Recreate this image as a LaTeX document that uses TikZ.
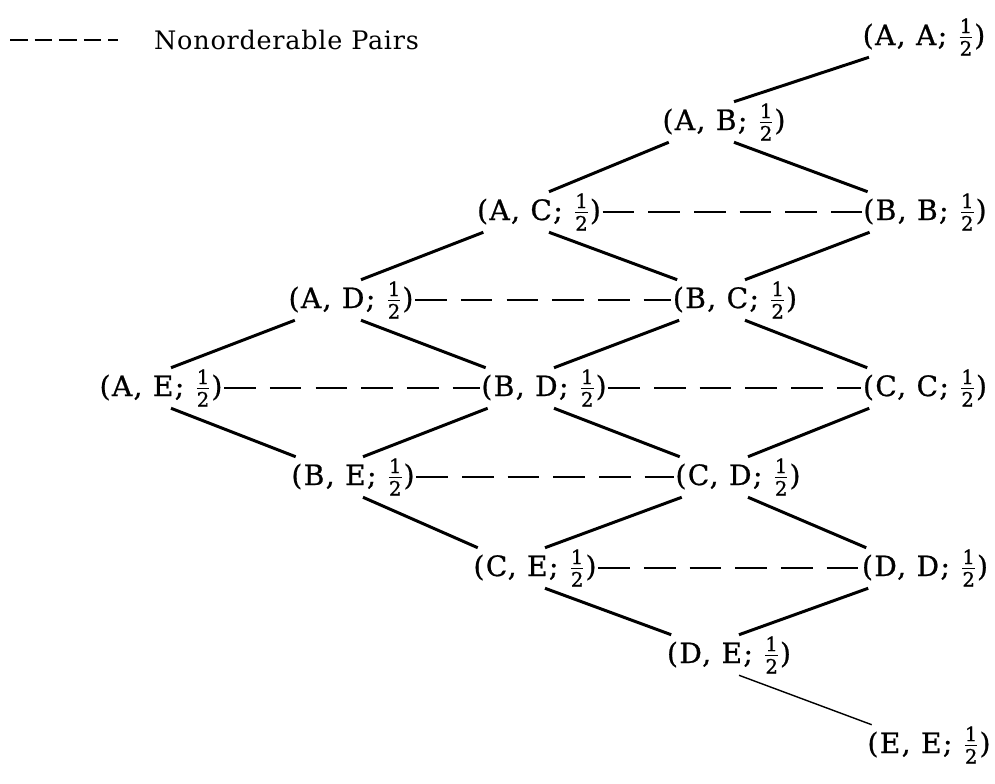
\documentclass[tikz,border=0pt]{standalone}
\usepackage{amsmath}
\usepackage{fontspec}
\setmainfont{DejaVu Serif}
\newfontfamily\pairfont{DejaVu Serif}[LetterSpace=5, FakeBold=0.8]
\newfontfamily\keyfont{DejaVu Serif}[LetterSpace=3]
\usetikzlibrary{calc}
\newcommand{\hlf}{$\frac{\text{1}}{\text{2}}$}

\tikzset{
  pair/.style={inner sep=1pt, outer sep=0pt, font=\pairfont\fontsize{16}{18}\selectfont},
  order/.style={line width=1.7pt},
  nonorder/.style={line width=1.5pt, dash pattern=on 18pt off 8pt},
}

\begin{document}
\begin{tikzpicture}[x=0.02cm, y=-0.02cm]
  \useasboundingbox (0,0) rectangle (995,784);

  % Legend
  \coordinate (lgA) at (10,40);
  \coordinate (lgB) at (118,40);
  \draw[nonorder, line width=1.7pt, dash pattern=on 10pt off 4pt] (lgA) -- (lgB);
  \node[anchor=west, font=\keyfont\fontsize{14.5}{16}\selectfont] (lgT) at (148,40) {Nonorderable Pairs};

  % Pairs, column by column
  \node[pair] (ae) at (161,388) {(A, E; \hlf)};
  \node[pair] (ad) at (351,300) {(A, D; \hlf)};
  \node[pair] (be) at (353,477) {(B, E; \hlf)};
  \node[pair] (ac) at (539,212) {(A, C; \hlf)};
  \node[pair] (bd) at (544,388) {(B, D; \hlf)};
  \node[pair] (ce) at (535,568) {(C, E; \hlf)};
  \node[pair] (ab) at (724,122) {(A, B; \hlf)};
  \node[pair] (bc) at (735,300) {(B, C; \hlf)};
  \node[pair] (cd) at (738,477) {(C, D; \hlf)};
  \node[pair] (de) at (729,655) {(D, E; \hlf)};
  \node[pair] (aa) at (924,37) {(A, A; \hlf)};
  \node[pair] (bb) at (925,212) {(B, B; \hlf)};
  \node[pair] (cc) at (925,388) {(C, C; \hlf)};
  \node[pair] (dd) at (925,568) {(D, D; \hlf)};
  \node[pair] (ee) at (929,745) {(E, E; \hlf)};

  % Rising edges
  \foreach \l/\u in {ae/ad, ad/ac, ac/ab, ab/aa, be/bd, bd/bc, bc/bb, ce/cd, cd/cc, de/dd}
    \draw[order] ($(\l.north)+(10,0)$) -- ($(\u.south west)+(8,0)$);
  % Falling edges
  \foreach \u/\l in {ab/bb, ac/bc, bc/cc, ad/bd, bd/cd, cd/dd, ae/be, be/ce, ce/de}
    \draw[order] ($(\u.south)+(10,0)$) -- ($(\l.north west)+(6,0)$);
  \draw[line width=0.8pt] ($(de.south)+(10,0)$) -- ($(ee.north west)+(6,0)$);

  % Nonorderable pairs
  \foreach \a/\b in {ac/bb, ad/bc, ae/bd, bd/cc, be/cd, ce/dd}
    \draw[nonorder] (\a.east) -- (\b.west);
\end{tikzpicture}
\end{document}
